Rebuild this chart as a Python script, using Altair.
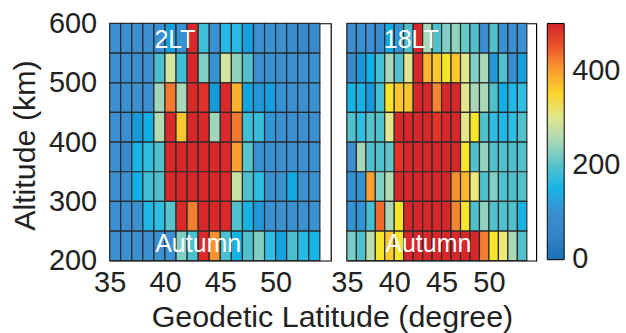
import altair as alt
import pandas as pd

# ---- data -------------------------------------------------------------
lat_cells = list(range(35, 54))          # lower edge of each 1-degree cell
alt_cells = [550, 500, 450, 400, 350, 300, 250, 200]   # lower edge of each 50-km row (top to bottom)

vals_2lt = [
    [100, 100, 100, 100, 100, 130, 105, 490, 180, 105, 160, 160, 130, 100, 100, 100, 85, 70, 80],
    [100, 100, 100, 100, 190, 285, 180, 490, 225, 105, 285, 235, 195, 100, 100, 100, 100, 100, 100],
    [100, 100, 100, 100, 245, 430, 250, 485, 470, 125, 485, 385, 135, 120, 130, 105, 100, 100, 100],
    [100, 100, 125, 145, 260, 485, 365, 490, 485, 245, 485, 430, 180, 175, 110, 100, 100, 100, 100],
    [100, 85, 150, 165, 195, 485, 490, 490, 490, 485, 485, 400, 200, 105, 100, 100, 100, 100, 100],
    [100, 100, 145, 180, 195, 485, 490, 490, 490, 485, 485, 275, 195, 165, 100, 100, 140, 100, 100],
    [100, 100, 100, 155, 165, 200, 485, 425, 490, 485, 485, 195, 150, 120, 100, 100, 100, 100, 100],
    [100, 100, 100, 100, 100, 100, 225, 190, 485, 410, 190, 150, 195, 225, 165, 130, 190, 160, 150],
]

vals_18lt = [
    [100, 100, 100, 85, 140, 110, 195, 490, 250, 195, 225, 235, 210, 195, 95, 195, 100, 100, 100],
    [85, 125, 145, 185, 250, 195, 300, 490, 380, 365, 335, 365, 300, 225, 250, 120, 195, 90, 130],
    [150, 150, 125, 185, 335, 365, 365, 490, 490, 420, 490, 490, 300, 250, 250, 195, 145, 155, 165],
    [195, 165, 200, 195, 300, 490, 490, 490, 490, 465, 490, 490, 300, 335, 195, 165, 155, 165, 195],
    [100, 250, 195, 195, 205, 465, 490, 490, 490, 490, 490, 490, 335, 195, 235, 195, 195, 195, 195],
    [110, 110, 400, 225, 260, 490, 490, 490, 490, 490, 490, 410, 380, 310, 195, 225, 195, 195, 195],
    [110, 110, 185, 440, 250, 335, 490, 490, 490, 490, 490, 420, 335, 195, 235, 195, 195, 195, 150],
    [220, 195, 265, 335, 360, 335, 490, 490, 490, 490, 490, 490, 490, 490, 425, 335, 315, 250, 195],
]

panel_labels = ["2LT", "18LT"]
season_label = "Autumn"
x_ticks = [35, 40, 45, 50]
y_ticks = [200, 300, 400, 500, 600]
legend_ticks = [0, 200, 400]

color_stops = [-1, 50, 100, 125, 145, 165, 195, 225, 250, 280, 310, 335, 365, 395, 420, 440, 465, 500]
color_range = ["#1a6fb4", "#3184c8", "#3b90d1", "#1799da", "#0fb0e8", "#2ebde3", "#4fc0cc",
               "#7fcfc6", "#a9d8b9", "#cfe3a3", "#ebe882", "#f6e52a", "#fdc62f", "#fba532",
               "#f58530", "#f06a30", "#e6332a", "#d3222a"]

FONT = "Liberation Sans"
LAB = 29
TIT = 30.5


def make_df(vals):
    rows = []
    for i, a in enumerate(alt_cells):
        for j, la in enumerate(lat_cells):
            rows.append({"lat": la, "lat2": la + 1, "alt": a, "alt2": a + 50, "v": vals[i][j]})
    return pd.DataFrame(rows)


color_enc = alt.Color(
    "v:Q",
    scale=alt.Scale(domain=color_stops, range=color_range),
    legend=alt.Legend(
        title=None, orient="right", direction="vertical", offset=10,
        gradientLength=237, gradientThickness=17,
        gradientStrokeColor="black", gradientStrokeWidth=1,
        values=legend_ticks, labelFontSize=LAB, labelFont=FONT, labelColor="#222",
        labelOffset=8, labelBaseline="middle", padding=0,
    ),
)


def panel(vals, label, width, left):
    df = make_df(vals)
    xscale = alt.Scale(domain=[35, 55], nice=False, zero=False)
    yscale = alt.Scale(domain=[200, 600], nice=False, zero=False)
    common_x = dict(values=x_ticks, ticks=False, domain=False, grid=False, labelPadding=8,
                    labelFontSize=LAB, labelFont=FONT, labelColor="#222", format="d",
                    labelFlush=False, labelOverlap=False)
    if left:
        xaxis = alt.Axis(**common_x,
                         title="Geodetic Latitude (degree)", titleFontSize=TIT, titleFont=FONT,
                         titleFontWeight="normal", titleColor="#222",
                         titleX=223, titleY=66, titleBaseline="alphabetic", titleAlign="center")
        yaxis = alt.Axis(values=y_ticks, ticks=False, domain=False, grid=False, labelPadding=13,
                         labelFontSize=LAB, labelFont=FONT, labelColor="#222", format="d",
                         labelFlush=False, labelOverlap=False,
                         title="Altitude (km)", titleFontSize=TIT, titleFont=FONT,
                         titleFontWeight="normal", titleColor="#222",
                         titleX=-75, titleY=122, titleBaseline="alphabetic", titleAlign="center",
                         titleAngle=270)
    else:
        xaxis = alt.Axis(**common_x, title=None)
        yaxis = alt.Axis(values=y_ticks, ticks=False, domain=False, grid=False, labels=False,
                         title=None)
    rects = alt.Chart(df).mark_rect(stroke="#2a2a2a", strokeWidth=1.2).encode(
        x=alt.X("lat:Q", scale=xscale, axis=xaxis),
        x2="lat2",
        y=alt.Y("alt:Q", scale=yscale, axis=yaxis),
        y2="alt2",
        color=color_enc,
    )
    ann = pd.DataFrame({"lat": [40.9 if left else 41.8, 43.0 if left else 43.6],
                        "alt": [572, 228],
                        "t": [label, season_label]})
    txt = alt.Chart(ann).mark_text(color="white", fontSize=25, font=FONT,
                                   baseline="middle", align="center").encode(
        x=alt.X("lat:Q", scale=xscale),
        y=alt.Y("alt:Q", scale=yscale),
        text="t:N",
    )
    return alt.layer(rects, txt).properties(width=width, height=238)


left_panel = panel(vals_2lt, panel_labels[0], 222, True)
right_panel = panel(vals_18lt, panel_labels[1], 190, False)

chart = alt.hconcat(left_panel, right_panel, spacing=16, bounds="flush").resolve_scale(
    color="shared"
).resolve_legend(color="shared").properties(
    padding={"left": 10, "top": 8, "right": 5, "bottom": 5},
    background="white",
).configure_view(stroke="black", strokeWidth=1.2)

chart.save("out.html", embed_options={"renderer": "svg", "actions": False})
